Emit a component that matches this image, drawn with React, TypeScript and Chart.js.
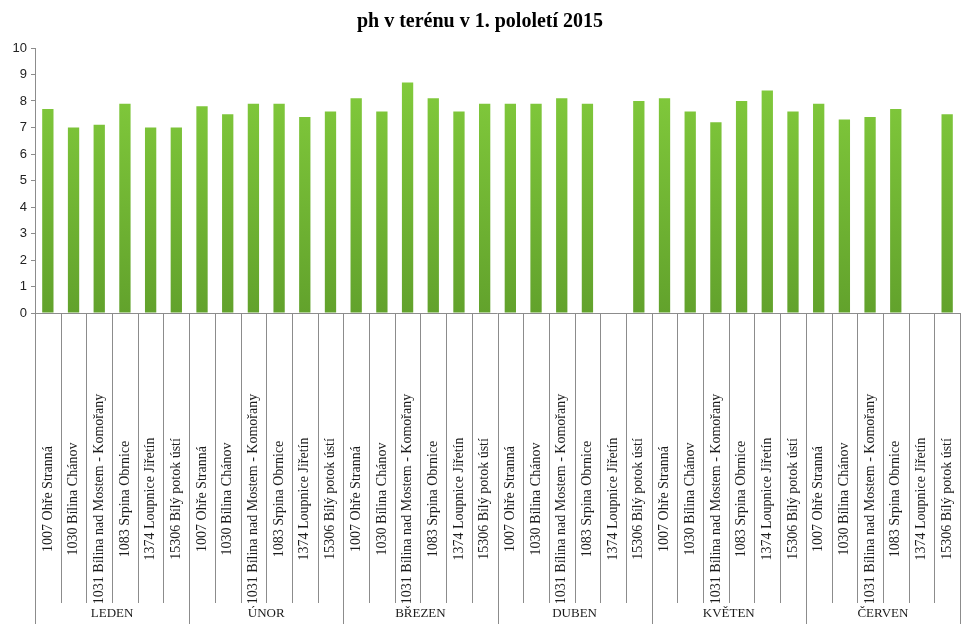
import React, { useEffect, useRef } from "react";
import { Chart, registerables } from "chart.js";

Chart.register(...registerables);

const months = ["LEDEN", "ÚNOR", "BŘEZEN", "DUBEN", "KVĚTEN", "ČERVEN"];
const stations = [
  "1007 Ohře Stranná",
  "1030 Bílina Chánov",
  "1031 Bílina nad Mostem - Komořany",
  "1083 Srpina Obrnice",
  "1374 Loupnice Jiřetín",
  "15306 Bílý potok ústí",
];
const yTicks = [0, 1, 2, 3, 4, 5, 6, 7, 8, 9, 10];
// pH values, month by month, station order as above (null = no measurement)
const leden = [7.7, 7.0, 7.1, 7.9, 7.0, 7.0];
const unor = [7.8, 7.5, 7.9, 7.9, 7.4, 7.6];
const brezen = [8.1, 7.6, 8.7, 8.1, 7.6, 7.9];
const duben = [7.9, 7.9, 8.1, 7.9, null, 8.0];
const kveten = [8.1, 7.6, 7.2, 8.0, 8.4, 7.6];
const cerven = [7.9, 7.3, 7.4, 7.7, null, 7.5];

const values = [...leden, ...unor, ...brezen, ...duben, ...kveten, ...cerven];
const labels = months.flatMap((m) => stations.map((s) => m + "|" + s));

const axisLabelsPlugin = {
  id: "multiLevelLabels",
  afterDraw(chart: any) {
    const { ctx, chartArea, scales } = chart;
    const xs = scales.x;
    const n = labels.length;
    const step = (chartArea.right - chartArea.left) / n;
    const base = chartArea.bottom;
    ctx.save();
    ctx.strokeStyle = "#8c8c8c";
    ctx.lineWidth = 1;
    // axis line
    ctx.beginPath();
    ctx.moveTo(chartArea.left, base + 0.5);
    ctx.lineTo(chartArea.right, base + 0.5);
    ctx.stroke();
    // separators
    for (let i = 0; i <= n; i++) {
      const x = Math.round(chartArea.left + i * step) + 0.5;
      const isGroup = i % stations.length === 0;
      ctx.beginPath();
      ctx.moveTo(x, base);
      ctx.lineTo(x, isGroup ? 624 : 603);
      ctx.stroke();
    }
    // station labels
    ctx.fillStyle = "#1a1a1a";
    ctx.font = "14px 'Liberation Serif', serif";
    ctx.textAlign = "center";
    ctx.textBaseline = "middle";
    for (let i = 0; i < n; i++) {
      const x = xs.getPixelForValue(i);
      ctx.save();
      ctx.translate(x, 499);
      ctx.rotate(-Math.PI / 2);
      ctx.fillText(stations[i % stations.length], 0, 0);
      ctx.restore();
    }
    // month labels
    ctx.font = "13px 'Liberation Serif', serif";
    months.forEach((m, g) => {
      const cx = chartArea.left + (g + 0.5) * stations.length * step;
      ctx.fillText(m, cx, 614);
    });
    ctx.restore();
  },
};

export default function App() {
  const ref = useRef<HTMLCanvasElement>(null);
  useEffect(() => {
    document.body.style.margin = "0";
    const canvas = ref.current!;
    const chart = new Chart(canvas, {
      type: "bar",
      data: {
        labels,
        datasets: [
          {
            label: "pH",
            data: values,
            backgroundColor: (c: any) => {
              const area = c.chart.chartArea;
              if (!area) return "#74b834";
              const g = c.chart.ctx.createLinearGradient(0, area.top, 0, area.bottom);
              g.addColorStop(0, "#86d03e");
              g.addColorStop(1, "#62a22c");
              return g;
            },
            borderWidth: 0,
            categoryPercentage: 1,
            barPercentage: 0.44,
          },
        ],
      },
      options: {
        responsive: false,
        animation: false,
        layout: { padding: { left: 0, right: 15, top: 0, bottom: 0 } },
        plugins: {
          legend: { display: false },
          tooltip: { enabled: false },
          title: {
            display: true,
            text: "ph v terénu v 1. pololetí 2015",
            font: { family: "'Liberation Serif', serif", size: 20, weight: "bold" },
            color: "#000",
            padding: { top: 10, bottom: 14 },
          },
        },
        scales: {
          x: {
            type: "category",
            ticks: { display: false },
            grid: { display: false },
            border: { display: false },
            afterFit: (s: any) => {
              s.height = 316;
            },
          },
          y: {
            min: 0,
            max: 10,
            afterBuildTicks: (s: any) => {
              s.ticks = yTicks.map((v) => ({ value: v }));
            },
            ticks: {
              font: { family: "'Liberation Sans', sans-serif", size: 13 },
              color: "#222",
              padding: 4,
            },
            grid: { drawOnChartArea: false, tickLength: 4, color: "#8c8c8c" },
            border: { display: true, color: "#8c8c8c" },
            afterFit: (s: any) => {
              s.width = 35;
            },
          },
        },
      },
      plugins: [axisLabelsPlugin],
    });
    return () => chart.destroy();
  }, []);
  return (
    <div style={{ width: 975, height: 629, background: "#fff" }}>
      <canvas ref={ref} width={975} height={629} />
    </div>
  );
}
